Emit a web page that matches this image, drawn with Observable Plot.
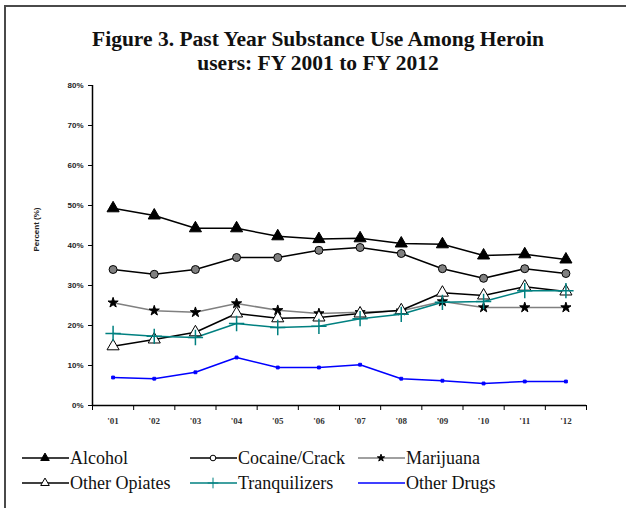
<!DOCTYPE html>
<html>
<head>
<meta charset="utf-8">
<script src="https://cdn.jsdelivr.net/npm/d3@7"></script>
<script src="https://cdn.jsdelivr.net/npm/@observablehq/plot@0.6"></script>
<style>
  html, body { margin: 0; padding: 0; background: #fff; }
  body { width: 626px; height: 508px; position: relative; overflow: hidden; }
  #frame { position: absolute; left: 4px; top: 5px; width: 640px; height: 520px; border: 2px solid #4a4a4a; box-sizing: border-box; }
  #title { position: absolute; left: 0; top: 27px; width: 636px; text-align: center;
    font-family: 'Liberation Serif', serif; font-weight: bold; font-size: 21.5px; line-height: 24px; color: #111; }
  #chart { position: absolute; left: 0; top: 0; }
  #legend { position: absolute; left: 0; top: 444px; width: 626px; height: 60px;
    font-family: 'Liberation Serif', serif; font-size: 18px; color: #111; }
  .item { position: absolute; display: flex; align-items: center; height: 22px; white-space: nowrap; }
  .item svg { display: block; }
</style>
</head>
<body>
<div id="frame"></div>
<div id="title">Figure 3. Past Year Substance Use Among Heroin<br>users: FY 2001 to FY 2012</div>
<div id="chart"></div>
<div id="legend"></div>
<script>
const years = ["'01","'02","'03","'04","'05","'06","'07","'08","'09","'10","'11","'12"];
const alcohol      = [49.3,47.5,44.3,44.3,42.3,41.6,41.8,40.5,40.3,37.5,37.8,36.5];
const cocaine      = [34,32.8,34,37,37,38.8,39.5,38,34.2,31.8,34.2,33];
const marijuana    = [25.7,23.7,23.3,25.5,23.8,23,23.3,23.7,26,24.5,24.5,24.5];
const otherOpiates = [14.8,16.5,18.3,23,21.8,22,23,23.8,28.2,27.5,29.7,28.5];
const tranquilizers= [18,17.3,17,20.5,19.5,19.8,21.7,22.8,25.8,26,28.7,28.7];
const otherDrugs   = [7,6.7,8.3,12,9.5,9.5,10.2,6.7,6.2,5.5,6,6];
const yTicks = [0,10,20,30,40,50,60,70,80];

const seriesNames = ["Alcohol","Cocaine/Crack","Marijuana","Other Opiates","Tranquilizers","Other Drugs"];
const seriesVals = [alcohol, cocaine, marijuana, otherOpiates, tranquilizers, otherDrugs];
const styles = {
  "Alcohol":       {line:"#000", w:1.5, symbol:"triangle", fill:"#000", stroke:"#000", r:4.5},
  "Cocaine/Crack": {line:"#000", w:1.5, symbol:"circle", fill:"#808080", stroke:"#000", r:4},
  "Marijuana":     {line:"#808080", w:1.5, symbol:"star", fill:"#000", stroke:"#000", r:3.2},
  "Other Opiates": {line:"#000", w:1.5, symbol:"triangle", fill:"#fff", stroke:"#000", r:4.5},
  "Tranquilizers": {line:"#008080", w:1.5, symbol:"plus", fill:"none", stroke:"#008080", r:5},
  "Other Drugs":   {line:"#0000ff", w:1.5, symbol:"square", fill:"#0000ff", stroke:"#0000ff", r:1.6}
};

const rows = [];
seriesNames.forEach((s, si) => years.forEach((y, i) => rows.push({series: s, idx: i + 0.5, year: y, value: seriesVals[si][i]})));

const marks = [
  Plot.ruleX([0], {y1: 0, y2: 80, stroke: "#000", strokeWidth: 1.5}),
  Plot.ruleY([0], {x1: 0, x2: 12, stroke: "#000", strokeWidth: 1.5}),
  Plot.axisY({ticks: yTicks, tickSize: 4, tickPadding: 5, tickFormat: d => d + "%", label: null,
    fontSize: 8, fontWeight: "bold", fill: "#222", fontFamily: "Liberation Sans, Arial, sans-serif"}),
  Plot.axisX({ticks: d3.range(0, 13), tickSize: 5, tickFormat: () => "", label: null}),
  Plot.axisX({ticks: years.map((_, i) => i + 0.5), tickSize: 0, tickPadding: 12,
    tickFormat: d => years[Math.round(d - 0.5)], label: null,
    fontSize: 9, fontWeight: "bold", fill: "#333", fontFamily: "'Liberation Serif', serif"}),
  Plot.text(["Percent (%)"], {frameAnchor: "left", dx: -56, dy: 0, x: 0, y: 38.5, rotate: -90,
    fontSize: 8, fontWeight: "bold", fill: "#222", fontFamily: "Liberation Sans, Arial, sans-serif"})
];
for (const s of seriesNames) {
  const st = styles[s];
  const data = rows.filter(d => d.series === s);
  marks.push(Plot.line(data, {x: "idx", y: "value", stroke: st.line, strokeWidth: st.w}));
}
for (const s of seriesNames) {
  const st = styles[s];
  const data = rows.filter(d => d.series === s);
  marks.push(Plot.dot(data, {x: "idx", y: "value", symbol: () => st.symbol, r: st.r,
    fill: st.fill, stroke: st.stroke, strokeWidth: st.symbol === "plus" ? 1.5 : 1}));
}

const chart = Plot.plot({
  width: 626, height: 440,
  marginLeft: 92, marginRight: 40, marginTop: 85, marginBottom: 35,
  x: {type: "linear", domain: [0, 12]},
  y: {domain: [0, 80]},
  symbol: {type: "identity"},
  style: {background: "transparent", overflow: "visible"},
  marks
});
document.getElementById("chart").appendChild(chart);

// legend
const legendPos = [[22,458],[190,458],[358,458],[22,483],[190,483],[358,483]];
const sym = {triangle: d3.symbolTriangle, circle: d3.symbolCircle, star: d3.symbolStar, plus: d3.symbolPlus, square: d3.symbolSquare};
const legend = document.getElementById("legend");
seriesNames.forEach((s, i) => {
  const st = styles[s];
  const [lx, ly] = legendPos[i];
  const item = document.createElement("div");
  item.className = "item";
  item.style.left = lx + "px";
  item.style.top = (ly - 444 - 11) + "px";
  const size = Math.PI * st.r * st.r * 0.5;
  const path = s === "Other Drugs" ? "" :
    `<path transform="translate(23,11)" d="${d3.symbol(sym[st.symbol], size)()}" fill="${st.fill === "#808080" ? "#fff" : st.fill}" stroke="${st.stroke}" stroke-width="1"/>`;
  item.innerHTML = `<svg width="47" height="22"><line x1="0" x2="47" y1="11" y2="11" stroke="${st.line}" stroke-width="1.5"/>${path}</svg><span style="margin-left:1px">${s}</span>`;
  legend.appendChild(item);
});
</script>
</body>
</html>
